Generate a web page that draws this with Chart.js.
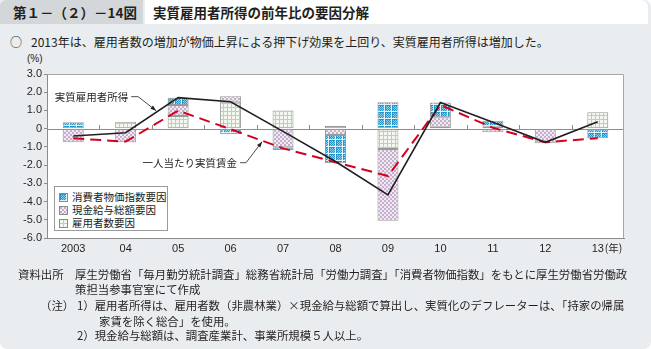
<!DOCTYPE html>
<html>
<head>
<meta charset="utf-8">
<script src="https://cdn.jsdelivr.net/npm/chart.js@4"></script>
<style>
body{margin:0;width:651px;height:349px;overflow:hidden;background:#fff;font-family:"Noto Sans CJK JP",sans-serif;color:#231f20}
.abs{position:absolute;white-space:nowrap}
#frame{left:0;top:0;width:651px;height:349px;background:#eaedef;border-radius:0 7px 7px 7px}
#tab{left:0;top:0;width:143px;height:24px;background:#d3d7da;border-radius:6px 0 0 0;font-weight:bold;font-size:13.5px;line-height:24px;text-indent:13px}
#title{left:145px;top:0;width:503px;height:24px;background:#fff;border-radius:0 7px 0 0;font-weight:bold;font-size:13.5px;line-height:24px;text-indent:8px}
.sub{font-size:12px;top:34px;line-height:16px}
.note{font-size:11.4px;line-height:14px}
#wrap{left:0;top:0;width:651px;height:349px}
#legend{left:54px;top:186px;width:112px;height:43px;background:#fff;border:1px solid #9a9a9a;z-index:2}
.li{position:absolute;left:4px;font-size:10.5px;line-height:12px}
.sw{display:inline-block;width:7px;height:7px;border:1px solid #8a8a8a;vertical-align:-1px;margin-right:4px}
</style>
</head>
<body>
<div id="frame" class="abs"></div>
<div id="tab" class="abs">第１－（２）－14図</div>
<div id="title" class="abs">実質雇用者所得の前年比の要因分解</div>
<div class="abs sub" style="left:10px">○</div>
<div class="abs sub" style="left:31px">2013年は、雇用者数の増加が物価上昇による押下げ効果を上回り、実質雇用者所得は増加した。</div>
<div class="abs" style="left:27px;top:53px;font-size:10px;font-family:'Liberation Sans',sans-serif">(%)</div>
<div id="wrap" class="abs"><canvas id="chart"></canvas></div>
<div id="legend" class="abs">
  <div class="li" style="top:4px"><span class="sw" id="sw0"></span>消費者物価指数要因</div>
  <div class="li" style="top:17px"><span class="sw" id="sw1"></span>現金給与総額要因</div>
  <div class="li" style="top:30px"><span class="sw" id="sw2"></span>雇用者数要因</div>
</div>
<div class="abs note" style="left:18px;top:267px">資料出所</div>
<div class="abs note" style="left:75px;top:267px">厚生労働省「毎月勤労統計調査」総務省統計局「労働力調査」「消費者物価指数」をもとに厚生労働省労働政</div>
<div class="abs note" style="left:75px;top:282px">策担当参事官室にて作成</div>
<div class="abs note" style="left:40px;top:298px">（注）</div>
<div class="abs note" style="left:77px;top:298px">1）雇用者所得は、雇用者数（非農林業）×現金給与総額で算出し、実質化のデフレーターは、「持家の帰属</div>
<div class="abs note" style="left:99px;top:314px">家賃を除く総合」を使用。</div>
<div class="abs note" style="left:77px;top:328px">2）現金給与総額は、調査産業計、事業所規模５人以上。</div>
<script>
// data
const years = ["2003","04","05","06","07","08","09","10","11","12","13"];
const empFactor  = [-0.03, 0.38, 0.70, 1.48, 1.00, 0.15, -1.12, 0.10, 0.10, 0.02, 0.90];
const wageFactor = [-0.72, -0.75, 0.60, 0.30, -1.02, -0.35, -3.93, 0.52, -0.20, -0.80, -0.03];
const cpiFactor  = [0.35, 0.00, 0.40, -0.31, -0.15, -1.55, 1.45, 0.82, 0.34, 0.00, -0.50];
const realIncome = [-0.40, -0.22, 1.70, 1.48, -0.15, -1.80, -3.64, 1.43, 0.35, -0.75, 0.38];
const realWagePC = [-0.53, -0.71, 0.99, -0.03, -1.08, -1.84, -2.60, 1.30, 0.05, -0.75, -0.52];
const yTicks = [3, 2, 1, 0, -1, -2, -3, -4, -5, -6];

// hatch tiles
function tile(w, h, draw) {
  const c = document.createElement("canvas");
  c.width = w; c.height = h;
  draw(c.getContext("2d"));
  return c;
}
const blueTile = tile(7, 7, g => {
  g.fillStyle = "#2596cc"; g.fillRect(0, 0, 7, 7);
  g.fillStyle = "#8ccfec";
  for (let i = 1; i < 6; i++) for (let j = 1; j < 6; j++) if ((i + j) % 2 == 0) g.fillRect(i, j, 1, 1);
  g.fillStyle = "#e2f2f9"; g.fillRect(6, 0, 1, 7); g.fillRect(0, 6, 7, 1);
});
const purpleTile = tile(4, 4, g => {
  g.fillStyle = "#f1eaf3"; g.fillRect(0, 0, 4, 4);
  g.fillStyle = "#c6afcc"; g.fillRect(0, 0, 2, 2); g.fillRect(2, 2, 2, 2);
});
const greenTile = tile(4, 4, g => {
  g.fillStyle = "#f2f8ef"; g.fillRect(0, 0, 4, 4);
  g.fillStyle = "#b5d6a8"; g.fillRect(3, 0, 1, 4); g.fillRect(0, 3, 4, 1);
});
const pctx = document.createElement("canvas").getContext("2d");
const bluePat = pctx.createPattern(blueTile, "repeat");
const purplePat = pctx.createPattern(purpleTile, "repeat");
const greenPat = pctx.createPattern(greenTile, "repeat");
[blueTile, purpleTile, greenTile].forEach((t, i) => {
  document.getElementById("sw" + i).style.backgroundImage = "url(" + t.toDataURL() + ")";
});

const axisGray = "#8c8c8c";

function arrowTo(ctx, pts, color) {
  ctx.save();
  ctx.strokeStyle = color; ctx.fillStyle = color; ctx.lineWidth = 0.8;
  ctx.beginPath();
  ctx.moveTo(pts[0][0], pts[0][1]);
  for (let i = 1; i < pts.length; i++) ctx.lineTo(pts[i][0], pts[i][1]);
  ctx.stroke();
  const a = pts[pts.length - 2], b = pts[pts.length - 1];
  const ang = Math.atan2(b[1] - a[1], b[0] - a[0]);
  ctx.beginPath();
  ctx.moveTo(b[0], b[1]);
  ctx.lineTo(b[0] - 6 * Math.cos(ang - 0.35), b[1] - 6 * Math.sin(ang - 0.35));
  ctx.lineTo(b[0] - 6 * Math.cos(ang + 0.35), b[1] - 6 * Math.sin(ang + 0.35));
  ctx.closePath(); ctx.fill();
  ctx.restore();
}

const framePlugin = {
  id: "framePlugin",
  beforeDraw(chart) {
    const a = chart.chartArea, ctx = chart.ctx;
    ctx.save(); ctx.fillStyle = "#fff";
    ctx.fillRect(a.left, a.top, a.right - a.left, a.bottom - a.top);
    ctx.restore();
  },
  beforeDatasetsDraw(chart) {
    const a = chart.chartArea, ctx = chart.ctx;
    const x = chart.scales.x, y0 = chart.scales.y.getPixelForValue(0);
    ctx.save();
    ctx.strokeStyle = axisGray; ctx.lineWidth = 1;
    ctx.beginPath();
    ctx.moveTo(a.left, Math.round(y0) + 0.5); ctx.lineTo(a.right, Math.round(y0) + 0.5);
    for (let i = 0; i < years.length - 1; i++) {
      const bx = Math.round((x.getPixelForTick(i) + x.getPixelForTick(i + 1)) / 2) + 0.5;
      ctx.moveTo(bx, Math.round(y0)); ctx.lineTo(bx, Math.round(y0) - 4);
    }
    ctx.stroke();
    ctx.restore();
  },
  afterDatasetsDraw(chart) {
    const a = chart.chartArea, ctx = chart.ctx;
    ctx.save();
    ctx.strokeStyle = "#a6a6a6"; ctx.lineWidth = 1;
    ctx.beginPath();
    ctx.moveTo(a.left, a.top + 0.5); ctx.lineTo(a.right - 0.5, a.top + 0.5); ctx.lineTo(a.right - 0.5, a.bottom);
    ctx.stroke();

    // leader labels
    const inc = chart.getDatasetMeta(3).data, wpc = chart.getDatasetMeta(4).data;
    const t = 0.6;
    const tipA = [inc[1].x + (inc[2].x - inc[1].x) * t, inc[1].y + (inc[2].y - inc[1].y) * t];
    const tipB = [wpc[3].x + (wpc[4].x - wpc[3].x) * t, wpc[3].y + (wpc[4].y - wpc[3].y) * t];
    ctx.font = '10.5px "Noto Sans CJK JP"';
    ctx.fillStyle = "#231f20"; ctx.textBaseline = "middle"; ctx.textAlign = "right";
    const la = [tipA[0] - 29, tipA[1] - 15];
    ctx.fillText("実質雇用者所得", la[0], la[1]);
    arrowTo(ctx, [[la[0] + 3, la[1]], [la[0] + 10, la[1]], [tipA[0] - 1, tipA[1] - 1]], "#231f20");
    const lb = [tipB[0] - 25, tipB[1] + 22];
    ctx.fillText("一人当たり実質賃金", lb[0], lb[1]);
    arrowTo(ctx, [[lb[0] + 3, lb[1]], [lb[0] + 9, lb[1]], [tipB[0], tipB[1] + 1]], "#231f20");

    // year unit after last label
    const lx = chart.scales.x.getPixelForTick(years.length - 1);
    ctx.textAlign = "left";
    ctx.font = '10.5px "Noto Sans CJK JP"';
    ctx.fillText("(年)", lx + 7, a.bottom + 10);
    ctx.restore();
  }
};

new Chart(document.getElementById("chart"), {
  data: {
    labels: years,
    datasets: [
      {type: "bar", label: "雇用者数要因", data: empFactor, backgroundColor: greenPat, stack: "f", order: 2},
      {type: "bar", label: "現金給与総額要因", data: wageFactor, backgroundColor: purplePat, stack: "f", order: 2},
      {type: "bar", label: "消費者物価指数要因", data: cpiFactor, backgroundColor: bluePat, stack: "f", order: 2},
      {type: "line", label: "実質雇用者所得", data: realIncome, stack: "a", order: 0,
       borderColor: "#231f20", borderWidth: 1.6, pointRadius: 0, fill: false, tension: 0},
      {type: "line", label: "一人当たり実質賃金", data: realWagePC, stack: "b", order: 1,
       borderColor: "#d4001f", borderWidth: 2, borderDash: [11, 6], pointRadius: 0, fill: false, tension: 0}
    ]
  },
  options: {
    responsive: true,
    maintainAspectRatio: false,
    animation: false,
    datasets: {bar: {categoryPercentage: 1, barPercentage: 0.4, borderColor: "#9a9a9a", borderWidth: 1, borderSkipped: false}},
    layout: {padding: {top: 74, right: 27, bottom: 91, left: 0}},
    plugins: {legend: {display: false}, tooltip: {enabled: false}},
    scales: {
      x: {
        stacked: true,
        grid: {display: false, drawTicks: false},
        border: {color: axisGray},
        ticks: {color: "#231f20", font: {family: "Liberation Sans", size: 11}, padding: 4, maxRotation: 0, autoSkip: false},
        afterFit: s => { s.height = 20; }
      },
      y: {
        stacked: true,
        min: -6, max: 3,
        afterBuildTicks: s => { s.ticks = yTicks.map(v => ({value: v})); },
        grid: {drawOnChartArea: false, tickLength: 3, color: axisGray},
        border: {color: axisGray},
        ticks: {color: "#231f20", font: {family: "Liberation Sans", size: 11}, padding: 2,
                callback: v => v === 0 ? "0" : v.toFixed(1)},
        afterFit: s => { s.width = 47; }
      }
    }
  },
  plugins: [framePlugin]
});
</script>
</body>
</html>
